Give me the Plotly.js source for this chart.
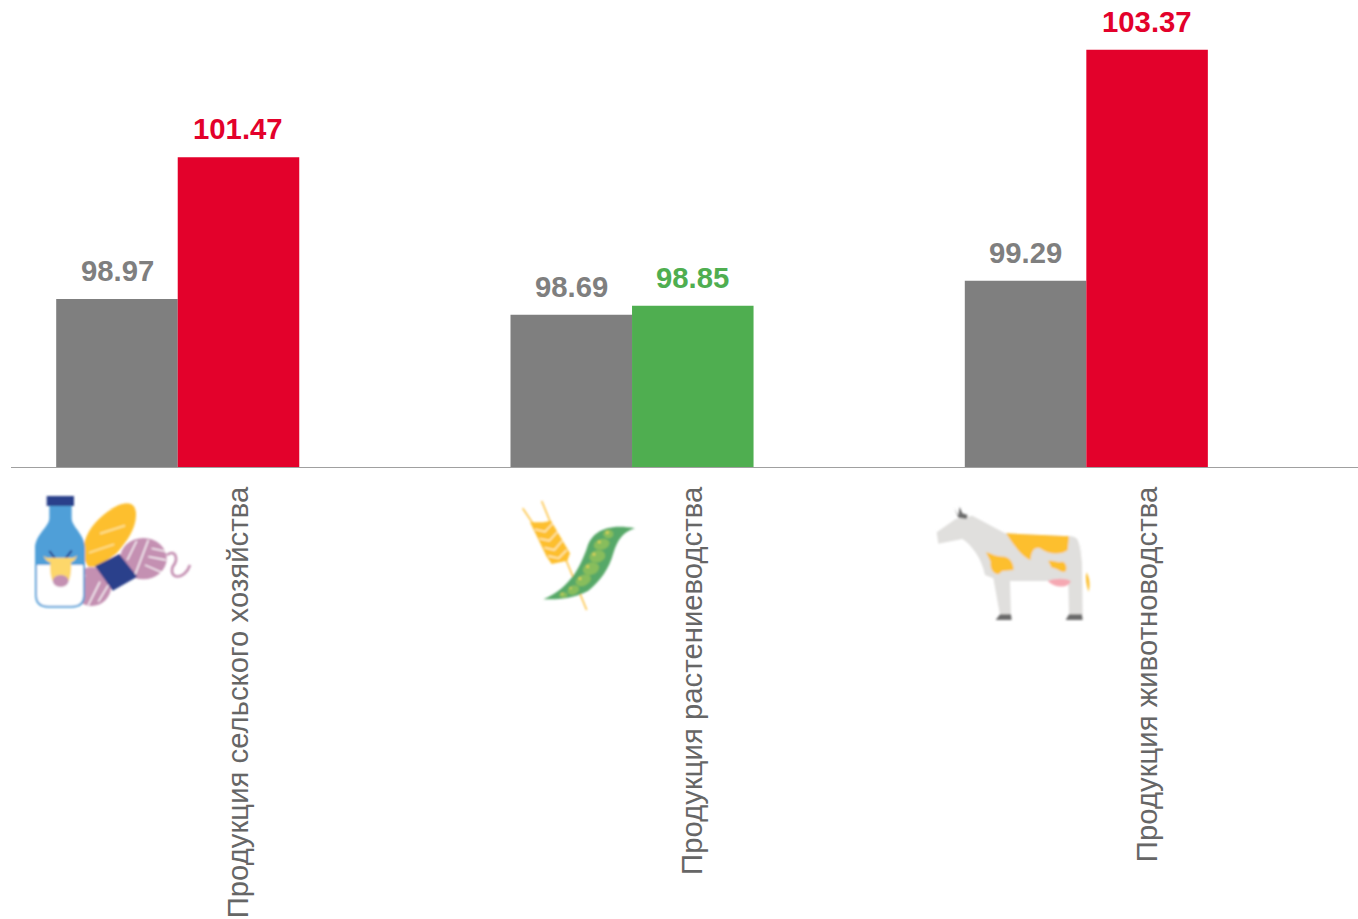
<!DOCTYPE html>
<html><head><meta charset="utf-8">
<script src="https://cdn.plot.ly/plotly-3.0.1.min.js"></script>
<style>html,body{margin:0;padding:0;background:#fff;overflow:hidden}#chart{width:1358px;height:919px}</style>
</head><body><div id="chart"></div>
<script>
const categories = ["Продукция сельского хозяйства","Продукция растениеводства","Продукция животноводства"];
const positions = [0,1,2];
const tickPositions = [0.134,1.134,2.134];
const seriesGrey = [98.97,98.69,99.29];
const seriesCurrent = [101.47,98.85,103.37];
const currentColors = ["#e3012b","#4fae50","#e3012b"];
const greyColor = "#7f7f7f";

const soft = `<defs><filter id="b" x="-5%" y="-5%" width="110%" height="110%"><feGaussianBlur stdDeviation="2.4"/></filter></defs>`;
const iconMilk = `<svg xmlns="http://www.w3.org/2000/svg" viewBox="0 0 720 405" width="720" height="405">${soft}<g filter="url(#b)">
<circle cx="215" cy="305" r="58" fill="#c490b2"/><ellipse cx="370" cy="221" rx="70" ry="62" fill="#c490b2"/>
<g stroke="#fff" stroke-width="4" fill="none"><path d="M385,165L345,270M350,168L322,225M395,190L440,200M385,215L437,225M375,240L425,262M240,290L205,360M265,300L235,350M195,270L175,335"/></g>
<path d="M440,210C470,190 475,225 458,245C445,285 495,285 510,240" stroke="#c490b2" stroke-width="8" fill="none"/>
<path d="M205,245C170,195 200,130 250,90C290,55 345,35 348,85C350,130 320,170 290,205L235,245Z" fill="#fdbf2d"/>
<path d="M240,146L315,122M207,203L283,178" stroke="#fde49a" stroke-width="5"/>
<polygon points="225,243 298,207 352,275 278,317" fill="#2a3f8b"/>
<path d="M88,60L155,60L155,100C155,125 195,150 195,190L195,330Q195,368 155,368L85,368Q45,368 45,330L45,190C45,150 88,125 88,100Z" fill="#4f9fd8"/>
<path d="M51,240L189,240L189,330Q189,362 155,362L85,362Q51,362 51,330Z" fill="#fff"/>
<rect x="80" y="33" width="82" height="30" fill="#2a3f8b"/>
<path d="M105,220L88,198M137,220L155,197" stroke="#2a3f8b" stroke-width="6"/>
<path d="M70,212Q82,222 92,218L150,218Q162,222 172,210Q165,230 153,232C155,255 152,278 146,288L98,288C92,278 89,255 91,232Q78,230 70,212Z" fill="#fdd76a"/>
<ellipse cx="122" cy="288" rx="24" ry="18" fill="#c490b2"/>
</g></svg>`;

const iconPlant = `<svg xmlns="http://www.w3.org/2000/svg" viewBox="0 0 420 390" width="420" height="390">${soft}<g filter="url(#b)">
<path d="M95,33L230,360M38,55L72,105" stroke="#fdc64b" stroke-width="5" fill="none"/>
<path d="M60,97L100,97L123,92L180,190L172,212L125,222L110,200Z" fill="#fdbf2d"/>
<g stroke="#fff3c9" stroke-width="4" fill="none"><path d="M75,118L105,125L128,100M88,146L118,152L143,125M103,173L133,180L157,152M115,198L146,205L170,180"/></g>
<path d="M100,328C140,312 170,285 195,250C212,222 222,200 232,170C245,130 285,98 375,115C340,125 322,150 310,190C298,235 270,275 235,302C195,325 150,328 100,328Z" fill="#57a868"/>
<g fill="#88bd5b">
<ellipse cx="295" cy="132" rx="15" ry="13"/><ellipse cx="275" cy="163" rx="24" ry="16" transform="rotate(-15 275 163)"/>
<ellipse cx="262" cy="199" rx="24" ry="18" transform="rotate(-15 262 199)"/><ellipse cx="243" cy="236" rx="25" ry="18" transform="rotate(-20 243 236)"/>
<ellipse cx="220" cy="271" rx="24" ry="16" transform="rotate(-25 220 271)"/><ellipse cx="190" cy="300" rx="18" ry="13" transform="rotate(-25 190 300)"/>
<ellipse cx="160" cy="315" rx="12" ry="8"/></g>
<g fill="#e8d65a"><circle cx="292" cy="128" r="4"/><circle cx="268" cy="156" r="4"/><circle cx="252" cy="193" r="4"/><circle cx="233" cy="230" r="4"/><circle cx="210" cy="266" r="4"/><circle cx="182" cy="295" r="3"/><circle cx="157" cy="312" r="3"/></g>
</g></svg>`;

const iconCow = `<svg xmlns="http://www.w3.org/2000/svg" viewBox="0 0 525 405" width="525" height="405">${soft}<g filter="url(#b)">
<path d="M35,112L92,72L142,62L240,115L440,124C462,128 470,150 471,190L473,360L432,360L430,265L370,258L255,258L258,360L225,360L205,250L180,240C170,190 140,150 112,132L40,146Z" fill="#e0dfdd"/>
<path d="M460,135C468,160 472,190 475,235" stroke="#fff" stroke-width="3" fill="none"/>
<path d="M88,38L100,62L104,35L112,55L128,60L125,72L100,68Z" fill="#6b6b6b"/>
<path d="M243,115L432,124L428,165C410,180 370,180 345,160C325,155 320,170 316,195C290,185 262,145 243,115Z" fill="#fdbf2d"/>
<path d="M183,172C200,175 205,185 240,185C260,190 268,215 265,225L232,228L220,238C200,235 195,215 197,200Z" fill="#fdbf2d"/>
<path d="M370,198C390,195 395,205 410,200C425,200 428,225 420,230C405,232 400,220 380,218Z" fill="#fdbf2d"/>
<path d="M368,258C390,250 420,248 437,258C435,275 395,285 368,258Z" fill="#f5a8b2"/>
<path d="M484,232C492,245 497,265 491,290C483,270 481,250 484,232Z" fill="#fdbf2d"/>
<path d="M225,358L258,358L260,375L212,375ZM432,358L471,358L473,375L422,375Z" fill="#6b6b6b"/>
</g></svg>`;

const uri = s => "data:image/svg+xml;base64," + btoa(s);
const H = 467, W = 1347, L = 11;
const place = (s, x, y, w, h) => ({source: uri(s), xref:"paper", yref:"paper", x:(x-L)/W, y:(H-y)/H, sizex:w/W, sizey:h/H, xanchor:"left", yanchor:"top", sizing:"stretch", layer:"above"});

const labelFamily = "Liberation Sans, Arial, sans-serif";
const traces = [
 {type:"bar", name:"Ряд 1", x:positions, y:seriesGrey, marker:{color:greyColor}, hoverinfo:"x+y"},
 {type:"bar", name:"Ряд 2", x:positions, y:seriesCurrent, marker:{color:currentColors}, hoverinfo:"x+y"}
];
const BAR_SHIFT = 60.7;
const valueLabel = (x, y, color, shift) => ({x, y, xref:"x", yref:"y", text:y.toFixed(2), showarrow:false, xanchor:"center", yanchor:"bottom",
  xshift:shift, yshift:10, font:{family:labelFamily, size:29.3, color, weight:700}});
const annotations = [
  ...seriesGrey.map((v,i)=>valueLabel(positions[i], v, greyColor, -BAR_SHIFT)),
  ...seriesCurrent.map((v,i)=>valueLabel(positions[i], v, currentColors[i], BAR_SHIFT))
];
const layout = {
 width:1358, height:919, margin:{l:L,r:0,t:0,b:452,pad:0}, paper_bgcolor:"#fff", plot_bgcolor:"#fff",
 barmode:"group", bargap:0.465, bargroupgap:0, showlegend:false,
 font:{family:labelFamily, color:"#595959"},
 xaxis:{range:[-0.367,2.598], tickmode:"array", tickvals:tickPositions, ticktext:categories, tickangle:-90,
  ticks:"", ticklabelstandoff:7, showgrid:false, zeroline:false, showline:true, linecolor:"#a0a0a0", linewidth:1,
  tickfont:{size:29.33,color:"#666666",family:labelFamily}, automargin:false},
 yaxis:{range:[96,104.25], visible:false, showgrid:false, zeroline:false, fixedrange:true},
 annotations,
 images:[place(iconMilk,20,485,240,135), place(iconPlant,510,490,140,130), place(iconCow,925,495,175,135)]
};
Plotly.newPlot("chart", traces, layout, {displayModeBar:false, responsive:false});
</script></body></html>
